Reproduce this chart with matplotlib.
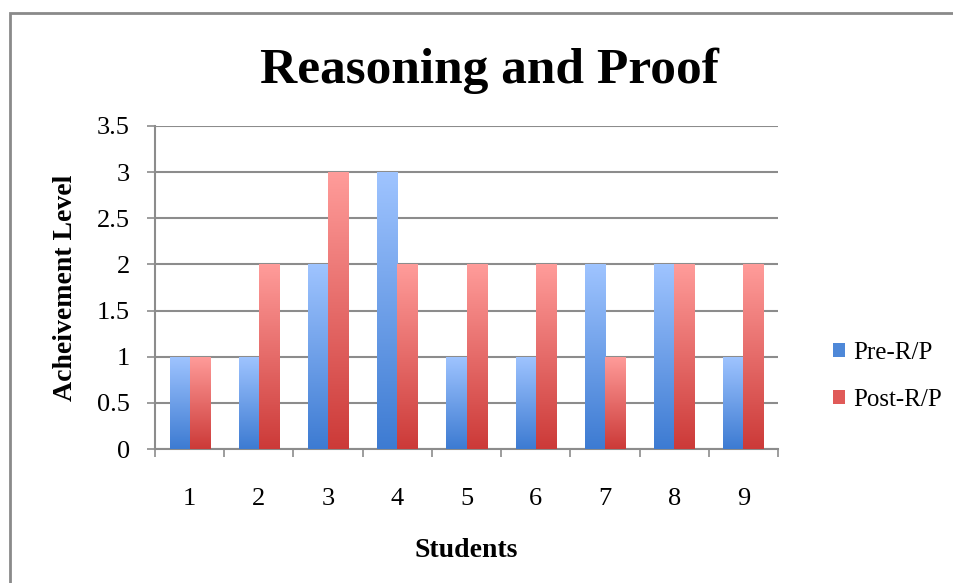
import numpy as np
import matplotlib.pyplot as plt
from matplotlib.colors import LinearSegmentedColormap
from matplotlib.patches import Patch, Rectangle

students = [1, 2, 3, 4, 5, 6, 7, 8, 9]
pre_rp = [1, 1, 2, 3, 1, 1, 2, 2, 1]
post_rp = [1, 2, 3, 2, 2, 2, 1, 2, 2]
series_names = ["Pre-R/P", "Post-R/P"]

plt.rcParams['font.family'] = ['Liberation Serif', 'DejaVu Serif']

# light at the top, darker at the bottom of every bar
blue_cmap = LinearSegmentedColormap.from_list("blue", ["#3d7bd2", "#9fc4ff"])
red_cmap = LinearSegmentedColormap.from_list("red", ["#cc3a38", "#ff9c9a"])
grad = np.linspace(0, 1, 256).reshape(-1, 1)

fig = plt.figure(figsize=(9.54, 5.83), dpi=100)
ax = fig.add_axes([0.1625, 0.2298, 0.653, 0.5541])

x = np.array(students, dtype=float)
w = 0.29
for vals, off, cmap in [(pre_rp, -w / 2, blue_cmap), (post_rp, w / 2, red_cmap)]:
    bars = ax.bar(x + off, vals, width=w, color="none", edgecolor="none", zorder=3)
    for b in bars:
        x0, y0 = b.get_x(), b.get_y()
        im = ax.imshow(grad, extent=[x0, x0 + b.get_width(), y0, y0 + b.get_height()],
                       origin="lower", aspect="auto", cmap=cmap, zorder=3)
        im.set_clip_path(b)

ax.set_xlim(0.5, 9.5)
ax.set_ylim(0, 3.5)
ax.set_yticks(np.arange(0, 3.51, 0.5))
ax.set_yticklabels(["0", "0.5", "1", "1.5", "2", "2.5", "3", "3.5"])
ax.set_xticks(x)
ax.set_xticks(np.arange(0.5, 9.6, 1), minor=True)
ax.tick_params(axis="x", which="major", length=0, pad=28, labelsize=19)
ax.tick_params(axis="x", which="minor", length=6, width=1.2, color="#8c8c8c", direction="out")
ax.tick_params(axis="y", length=6, width=1.2, color="#8c8c8c", labelsize=19, pad=12)

ax.grid(axis="y", color="#8c8c8c", linewidth=1.5, zorder=0)
ax.set_axisbelow(True)
for s in ["top", "right"]:
    ax.spines[s].set_visible(False)
for s in ["left", "bottom"]:
    ax.spines[s].set_color("#8c8c8c")
    ax.spines[s].set_linewidth(1.5)

ax.set_ylabel("Acheivement Level", fontsize=20, fontweight="bold", labelpad=14)
ax.set_xlabel("Students", fontsize=20, fontweight="bold", labelpad=20)
fig.text(0.513, 0.878, "Reasoning and Proof", fontsize=37, fontweight="bold",
         ha="center", va="center")

handles = [Patch(facecolor="#4e88d8"), Patch(facecolor="#e05a58")]
fig.legend(handles, series_names, loc="center left", bbox_to_anchor=(0.873, 0.355),
           frameon=False, fontsize=18, handlelength=0.5, handleheight=0.5,
           handletextpad=0.3, labelspacing=1.0, borderpad=0, borderaxespad=0)

# outer chart frame
fig.patches.append(Rectangle((0.0105, -0.1), 1.5, 1.0777, transform=fig.transFigure,
                             fill=False, edgecolor="#8a8a8a", linewidth=2))

fig.savefig("out.png", dpi=100)
plt.close()
